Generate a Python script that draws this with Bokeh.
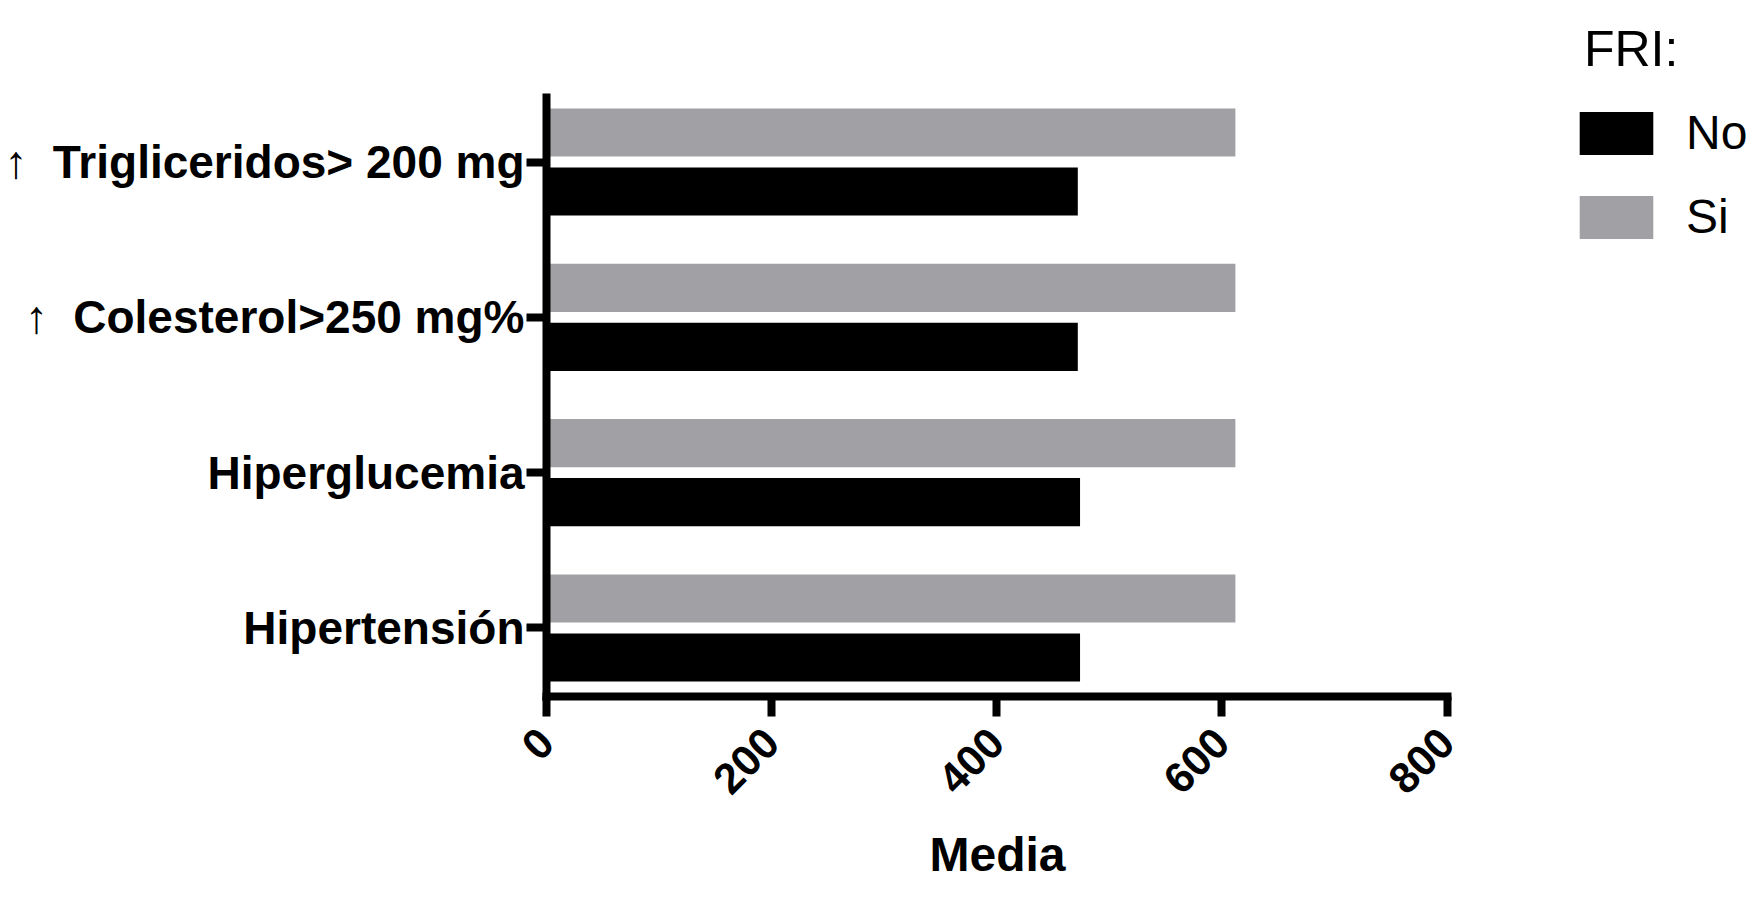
import math
from bokeh.plotting import figure
from bokeh.models import FixedTicker, Legend, LegendItem, ColumnDataSource, Title
from bokeh.embed import file_html
from bokeh.resources import INLINE

# ---- data (top to bottom as in the chart) ----
categories = ["↑\u00a0 Trigliceridos> 200 mg", "↑\u00a0 Colesterol>250 mg%", "Hiperglucemia", "Hipertensión"]
no_values = [472, 472, 474, 474]
si_values = [612, 612, 612, 612]
x_ticks = [0, 200, 400, 600, 800]
series_names = ["No", "Si"]
series_colors = ["#000000", "#a1a0a5"]
x_title = "Media"
legend_title = "FRI:"

n = len(categories)
pos = [n - 1 - i for i in range(n)]
offset = 0.19
bar_h = 0.31

src = ColumnDataSource(dict(
    y_no=[p_ - offset for p_ in pos],
    y_si=[p_ + offset for p_ in pos],
    no=no_values,
    si=si_values,
))

FONT = "Liberation Sans"

# layout (pixels)
W, H = 1763, 905
left_b, top_b, bottom_b, right_b = 546, 5, 209, 5
frame_w = W - left_b - right_b
frame_h = H - top_b - bottom_b
x_axis_px = 900.5          # pixel length of the 0..800 axis
y_pad = 0.441
y_unit_px = 155.33
x_end = x_ticks[-1] * frame_w / x_axis_px
y_start = -y_pad
y_end = y_start + frame_h / y_unit_px

p = figure(width=W, height=H, x_range=(x_ticks[0], x_end), y_range=(y_start, y_end),
           output_backend="svg", toolbar_location=None,
           min_border_left=left_b, min_border_right=right_b,
           min_border_top=top_b, min_border_bottom=bottom_b)
p.outline_line_color = None
p.xgrid.visible = False
p.ygrid.visible = False

r_si = p.hbar(y="y_si", left=0, right="si", height=bar_h, source=src,
              fill_color=series_colors[1], line_color=None)
r_no = p.hbar(y="y_no", left=0, right="no", height=bar_h, source=src,
              fill_color=series_colors[0], line_color=None)

for ax in (p.xaxis[0], p.yaxis[0]):
    ax.axis_line_width = 8
    ax.axis_line_color = "black"
    ax.axis_line_cap = "square"
    ax.major_tick_line_width = 8
    ax.major_tick_line_color = "black"
    ax.major_tick_in = 0
    ax.major_tick_out = 20
    ax.minor_tick_line_color = None
    ax.major_label_text_font = FONT
    ax.major_label_text_font_style = "bold"
    ax.major_label_text_color = "black"

p.yaxis.bounds = (-y_pad, n - 1 + y_pad - 4 / y_unit_px)
p.yaxis.ticker = FixedTicker(ticks=pos)
p.yaxis.major_label_overrides = {pos[i]: categories[i] for i in range(n)}
p.yaxis.major_label_text_font_size = "46px"
p.yaxis.major_label_standoff = 2

p.xaxis.bounds = (x_ticks[0], x_ticks[-1])
p.xaxis.ticker = FixedTicker(ticks=x_ticks)
p.xaxis.major_label_orientation = math.pi / 4
p.xaxis.major_label_text_font_size = "43px"
p.xaxis.major_label_standoff = 19

# x-axis title, centred under the 0..800 axis
t = Title(text=x_title, align="left", offset=383,
          text_font=FONT, text_font_size="48px", text_font_style="bold",
          text_color="black", standoff=33)
p.add_layout(t, "below")

legend = Legend(items=[LegendItem(label=series_names[0], renderers=[r_no]),
                       LegendItem(label=series_names[1], renderers=[r_si])],
                title="\u00a0" + legend_title, location=(1024, 452))
legend.title_text_font = FONT
legend.title_text_font_size = "50px"
legend.title_text_font_style = "normal"
legend.title_text_color = "black"
legend.label_text_font = FONT
legend.label_text_font_size = "48px"
legend.label_text_color = "black"
legend.glyph_width = 92
legend.glyph_height = 54
legend.label_height = 54
legend.label_standoff = 24
legend.spacing = 29
legend.padding = 0
legend.margin = 0
legend.border_line_color = None
legend.background_fill_alpha = 0
legend.title_standoff = 27
p.add_layout(legend, "center")

open("out.html", "w").write(file_html(p, INLINE))
